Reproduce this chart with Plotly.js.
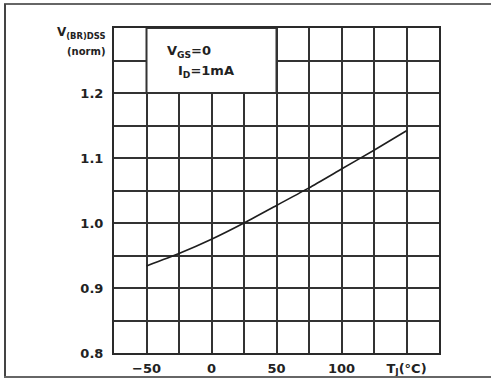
<!DOCTYPE html>
<html>
<head>
<meta charset="utf-8">
<script src="https://cdn.plot.ly/plotly-3.0.1.min.js"></script>
<style>
  html, body { margin: 0; padding: 0; background: #fff; }
  #chart { width: 491px; height: 379px; }
</style>
</head>
<body>
<div id="chart"></div>
<script>
// Normalized breakdown voltage vs. junction temperature
const tempC = [-50, -25, 0, 25, 50, 75, 100, 125, 150];
const vbrNorm = [0.934, 0.953, 0.975, 1.0, 1.027, 1.054, 1.083, 1.112, 1.142];

const xTickVals = [-50, 0, 50, 100, 150];
const xTickText = ['\u221250', '0', '50', '100', 'T<sub>J</sub>(\u00b0C)'];
const yTickVals = [0.8, 0.9, 1.0, 1.1, 1.2];
const yTickText = ['0.8', '0.9', '1.0', '1.1', '1.2'];

const ink = '#2a2a2a';
const gridInk = '#333';
const fam = 'DejaVu Sans, Liberation Sans, Arial, sans-serif';
const labelFont = { family: fam, size: 13, color: '#222', weight: 'bold' };

const trace = {
  x: tempC,
  y: vbrNorm,
  type: 'scatter',
  mode: 'lines',
  line: { color: '#1e1e1e', width: 1.6, shape: 'spline', smoothing: 0.6 },
  hoverinfo: 'skip',
  showlegend: false
};

// paper coords for the outer frame around the figure
const W = 491, H = 379, L = 114, R = 52, T = 28, B = 26;
const pw = W - L - R, ph = H - T - B;
const px = v => (v - L) / pw;
const py = v => (H - B - v) / ph;

const layout = {
  width: W,
  height: H,
  margin: { l: L, r: R, t: T, b: B },
  paper_bgcolor: '#fff',
  plot_bgcolor: '#fff',
  showlegend: false,
  xaxis: {
    range: [-75, 175],
    tickvals: xTickVals,
    ticktext: xTickText,
    ticks: '',
    showgrid: true,
    gridcolor: gridInk,
    gridwidth: 2,
    minor: { dtick: 25, tick0: -75, showgrid: true, gridcolor: gridInk, gridwidth: 2, ticks: '' },
    showline: true,
    linecolor: ink,
    linewidth: 2,
    mirror: true,
    zeroline: false,
    tickfont: labelFont,
    ticklabelstandoff: 2,
    fixedrange: true
  },
  yaxis: {
    range: [0.8, 1.3],
    tickvals: yTickVals,
    ticktext: yTickText,
    ticks: '',
    showgrid: true,
    gridcolor: gridInk,
    gridwidth: 2,
    minor: { dtick: 0.05, tick0: 0.8, showgrid: true, gridcolor: gridInk, gridwidth: 2, ticks: '' },
    showline: true,
    linecolor: ink,
    linewidth: 2,
    mirror: true,
    zeroline: false,
    tickfont: labelFont,
    ticklabelstandoff: 6,
    fixedrange: true
  },
  shapes: [
    // condition box in the upper-left corner of the grid
    { type: 'rect', xref: 'x', yref: 'y', x0: -50, x1: 50, y0: 1.2, y1: 1.3,
      fillcolor: '#fff', line: { color: gridInk, width: 2 }, layer: 'above' },
    // outer frame: top, left, bottom
    { type: 'line', xref: 'paper', yref: 'paper', x0: px(4), x1: px(491), y0: py(4), y1: py(4),
      line: { color: '#666', width: 2 } },
    { type: 'line', xref: 'paper', yref: 'paper', x0: px(5), x1: px(5), y0: py(4), y1: py(377),
      line: { color: '#444', width: 2 } },
    { type: 'line', xref: 'paper', yref: 'paper', x0: px(4), x1: px(491), y0: py(377), y1: py(377),
      line: { color: '#666', width: 2 } }
  ],
  annotations: [
    { xref: 'paper', yref: 'paper', x: px(107), y: py(33), xanchor: 'right', yanchor: 'middle',
      text: 'V<sub>(BR)DSS</sub>', showarrow: false,
      font: { family: fam, size: 12, color: '#222', weight: 'bold' } },
    { xref: 'paper', yref: 'paper', x: px(107), y: py(51), xanchor: 'right', yanchor: 'middle',
      text: '(norm)', showarrow: false,
      font: { family: fam, size: 10, color: '#222', weight: 'bold' } },
    { xref: 'paper', yref: 'paper', x: px(165), y: py(51), xanchor: 'left', yanchor: 'middle',
      text: 'V<sub>GS</sub>=0', showarrow: false,
      font: { family: fam, size: 13, color: '#222', weight: 'bold' } },
    { xref: 'paper', yref: 'paper', x: px(176), y: py(71), xanchor: 'left', yanchor: 'middle',
      text: 'I<sub>D</sub>=1mA', showarrow: false,
      font: { family: fam, size: 13, color: '#222', weight: 'bold' } }
  ]
};

Plotly.newPlot('chart', [trace], layout, { staticPlot: true, displayModeBar: false });
</script>
</body>
</html>
